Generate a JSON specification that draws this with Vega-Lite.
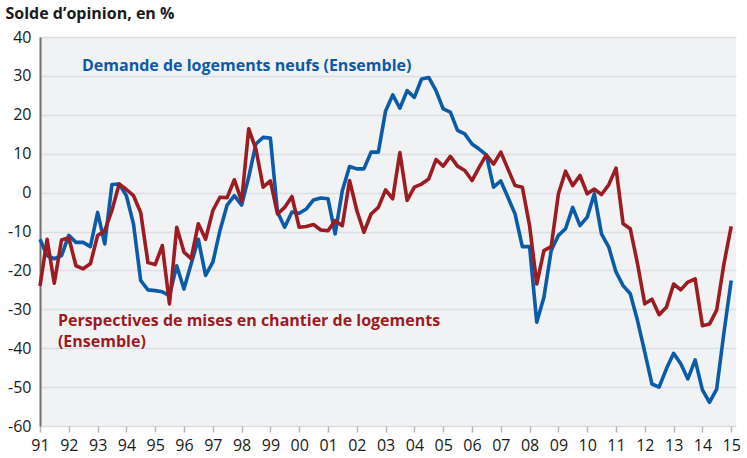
{
  "$schema": "https://vega.github.io/schema/vega-lite/v6.json",
  "width": 696,
  "height": 389,
  "autosize": {"type": "none"},
  "padding": {"left": 40, "top": 37, "right": 11, "bottom": 32},
  "background": "#ffffff",
  "config": {
    "view": {"fill": "#f1f2f4", "stroke": null},
    "font": "Open Sans",
    "axis": {"labelFont": "Open Sans", "titleFont": "Open Sans"}
  },
  "datasets": {
    "series": [
      {"d": "1991-01-01", "demande": -12, "perspectives": -24},
      {"d": "1991-04-01", "demande": -16.2, "perspectives": -12},
      {"d": "1991-07-01", "demande": -17, "perspectives": -23.3},
      {"d": "1991-10-01", "demande": -16.2, "perspectives": -12.2},
      {"d": "1992-01-01", "demande": -11, "perspectives": -11.6},
      {"d": "1992-04-01", "demande": -12.8, "perspectives": -18.8},
      {"d": "1992-07-01", "demande": -12.8, "perspectives": -19.6},
      {"d": "1992-10-01", "demande": -13.9, "perspectives": -18.3},
      {"d": "1993-01-01", "demande": -5.1, "perspectives": -11},
      {"d": "1993-04-01", "demande": -13.2, "perspectives": -9.8},
      {"d": "1993-07-01", "demande": 2.1, "perspectives": -4.6},
      {"d": "1993-10-01", "demande": 2.2, "perspectives": 2.2},
      {"d": "1994-01-01", "demande": -0.8, "perspectives": 0.8},
      {"d": "1994-04-01", "demande": -8.1, "perspectives": -0.8},
      {"d": "1994-07-01", "demande": -22.6, "perspectives": -5.1},
      {"d": "1994-10-01", "demande": -25, "perspectives": -18},
      {"d": "1995-01-01", "demande": -25.2, "perspectives": -18.5},
      {"d": "1995-04-01", "demande": -25.5, "perspectives": -13.6},
      {"d": "1995-07-01", "demande": -26.5, "perspectives": -28.6},
      {"d": "1995-10-01", "demande": -18.8, "perspectives": -8.9},
      {"d": "1996-01-01", "demande": -24.8, "perspectives": -15.3},
      {"d": "1996-04-01", "demande": -18.3, "perspectives": -17},
      {"d": "1996-07-01", "demande": -12, "perspectives": -8},
      {"d": "1996-10-01", "demande": -21.3, "perspectives": -12},
      {"d": "1997-01-01", "demande": -17.9, "perspectives": -4.6},
      {"d": "1997-04-01", "demande": -9.8, "perspectives": -1.2},
      {"d": "1997-07-01", "demande": -3.2, "perspectives": -1.3},
      {"d": "1997-10-01", "demande": -0.8, "perspectives": 3.3},
      {"d": "1998-01-01", "demande": -3.2, "perspectives": -2.2},
      {"d": "1998-04-01", "demande": 4, "perspectives": 16.4},
      {"d": "1998-07-01", "demande": 12.5, "perspectives": 11.2},
      {"d": "1998-10-01", "demande": 14.2, "perspectives": 1.4},
      {"d": "1999-01-01", "demande": 14, "perspectives": 3},
      {"d": "1999-04-01", "demande": -5, "perspectives": -5.5},
      {"d": "1999-07-01", "demande": -8.9, "perspectives": -3.8},
      {"d": "1999-10-01", "demande": -5, "perspectives": -1},
      {"d": "2000-01-01", "demande": -5.3, "perspectives": -8.9},
      {"d": "2000-04-01", "demande": -4.2, "perspectives": -8.7},
      {"d": "2000-07-01", "demande": -1.9, "perspectives": -8.2},
      {"d": "2000-10-01", "demande": -1.4, "perspectives": -9.6},
      {"d": "2001-01-01", "demande": -1.6, "perspectives": -9.8},
      {"d": "2001-04-01", "demande": -10.6, "perspectives": -7.2},
      {"d": "2001-07-01", "demande": 0.5, "perspectives": -8.5},
      {"d": "2001-10-01", "demande": 6.7, "perspectives": 3.1},
      {"d": "2002-01-01", "demande": 6.1, "perspectives": -4.6},
      {"d": "2002-04-01", "demande": 6.1, "perspectives": -10.2},
      {"d": "2002-07-01", "demande": 10.4, "perspectives": -5.5},
      {"d": "2002-10-01", "demande": 10.4, "perspectives": -3.8},
      {"d": "2003-01-01", "demande": 21, "perspectives": 0.7},
      {"d": "2003-04-01", "demande": 25.1, "perspectives": -1.6},
      {"d": "2003-07-01", "demande": 21.7, "perspectives": 10.3},
      {"d": "2003-10-01", "demande": 26.2, "perspectives": -2},
      {"d": "2004-01-01", "demande": 24.5, "perspectives": 1.4},
      {"d": "2004-04-01", "demande": 29.2, "perspectives": 2.2},
      {"d": "2004-07-01", "demande": 29.6, "perspectives": 3.5},
      {"d": "2004-10-01", "demande": 26.2, "perspectives": 8.5},
      {"d": "2005-01-01", "demande": 21.5, "perspectives": 6.8},
      {"d": "2005-04-01", "demande": 20.7, "perspectives": 9.3},
      {"d": "2005-07-01", "demande": 16, "perspectives": 6.8},
      {"d": "2005-10-01", "demande": 15.1, "perspectives": 5.7},
      {"d": "2006-01-01", "demande": 12.5, "perspectives": 3.1},
      {"d": "2006-04-01", "demande": 11.2, "perspectives": 6.5},
      {"d": "2006-07-01", "demande": 9.7, "perspectives": 9.7},
      {"d": "2006-10-01", "demande": 1.4, "perspectives": 7.3},
      {"d": "2007-01-01", "demande": 3, "perspectives": 10.4},
      {"d": "2007-04-01", "demande": -1.2, "perspectives": 6.1},
      {"d": "2007-07-01", "demande": -5.5, "perspectives": 1.8},
      {"d": "2007-10-01", "demande": -13.9, "perspectives": 1.4},
      {"d": "2008-01-01", "demande": -13.9, "perspectives": -8.5},
      {"d": "2008-04-01", "demande": -33.3, "perspectives": -23.5},
      {"d": "2008-07-01", "demande": -26.9, "perspectives": -14.9},
      {"d": "2008-10-01", "demande": -14.9, "perspectives": -13.9},
      {"d": "2009-01-01", "demande": -11, "perspectives": -0.3},
      {"d": "2009-04-01", "demande": -9.3, "perspectives": 5.5},
      {"d": "2009-07-01", "demande": -3.8, "perspectives": 1.8},
      {"d": "2009-10-01", "demande": -8.5, "perspectives": 4.4},
      {"d": "2010-01-01", "demande": -6.3, "perspectives": -0.3},
      {"d": "2010-04-01", "demande": -0.3, "perspectives": 0.9},
      {"d": "2010-07-01", "demande": -10.6, "perspectives": -0.5},
      {"d": "2010-10-01", "demande": -14, "perspectives": 2},
      {"d": "2011-01-01", "demande": -20.4, "perspectives": 6.3},
      {"d": "2011-04-01", "demande": -23.9, "perspectives": -8},
      {"d": "2011-07-01", "demande": -26, "perspectives": -9.3},
      {"d": "2011-10-01", "demande": -32.9, "perspectives": -18.3},
      {"d": "2012-01-01", "demande": -41, "perspectives": -28.6},
      {"d": "2012-04-01", "demande": -49.2, "perspectives": -27.4},
      {"d": "2012-07-01", "demande": -50, "perspectives": -31.4},
      {"d": "2012-10-01", "demande": -45.3, "perspectives": -29.5},
      {"d": "2013-01-01", "demande": -41.3, "perspectives": -23.5},
      {"d": "2013-04-01", "demande": -44, "perspectives": -25},
      {"d": "2013-07-01", "demande": -47.9, "perspectives": -23},
      {"d": "2013-10-01", "demande": -43, "perspectives": -22.2},
      {"d": "2014-01-01", "demande": -50.7, "perspectives": -34.2},
      {"d": "2014-04-01", "demande": -53.9, "perspectives": -33.8},
      {"d": "2014-07-01", "demande": -50.5, "perspectives": -30.2},
      {"d": "2014-10-01", "demande": -36, "perspectives": -18.3},
      {"d": "2015-01-01", "demande": -22.6, "perspectives": -8.7}
    ],
    "labels_blue": [
      {"d": "1992-06-17", "v": 32.6, "t": "Demande de logements neufs (Ensemble)"}
    ],
    "labels_red": [
      {"d": "1991-08-16", "v": -32.9, "t": "Perspectives de mises en chantier de logements"},
      {"d": "1991-08-16", "v": -38.3, "t": "(Ensemble)"}
    ]
  },
  "encoding": {
    "x": {
      "field": "d",
      "type": "temporal",
      "scale": {
        "type": "utc",
        "domain": [
          {"year": 1991, "month": 1, "date": 1, "utc": true},
          {"year": 2015, "month": 3, "date": 3, "utc": true}
        ]
      },
      "axis": {
        "title": null,
        "labelExpr": "utcFormat(datum.value, '%y')",
        "tickCount": {"interval": "year", "step": 1},
        "grid": false,
        "domain": false,
        "ticks": true,
        "tickColor": "#b4b6ba",
        "tickSize": 6,
        "tickWidth": 1.5,
        "labelFontSize": 16,
        "labelColor": "#1a1a1a",
        "labelPadding": 5,
        "labelDx": 3,
        "labelFlush": false,
        "labelOverlap": false
      }
    },
    "y": {
      "type": "quantitative",
      "scale": {"domain": [-60, 40], "nice": false, "zero": false},
      "axis": {
        "title": "Solde d’opinion, en %",
        "titleAngle": 0,
        "titleAlign": "left",
        "titleBaseline": "alphabetic",
        "titleX": -35,
        "titleY": -19,
        "titleFontSize": 16,
        "titleFontWeight": "bold",
        "titleColor": "#1a1a1a",
        "values": [-60, -50, -40, -30, -20, -10, 0, 10, 20, 30, 40],
        "labelExpr": "'' + datum.value",
        "labelFontSize": 16,
        "labelColor": "#1a1a1a",
        "labelPadding": 9,
        "ticks": false,
        "domain": true,
        "domainColor": "#6e6f72",
        "domainWidth": 2,
        "grid": true,
        "gridColor": "#dcdee2",
        "gridWidth": 1.5
      }
    }
  },
  "layer": [
    {
      "mark": {"type": "rule", "color": "#5a5b5e", "strokeWidth": 1.8},
      "encoding": {"y": {"datum": 0}, "x": null}
    },
    {
      "data": {"name": "series"},
      "mark": {"type": "line", "color": "#0b5ba8", "strokeWidth": 3.6, "strokeJoin": "round"},
      "encoding": {"y": {"field": "demande", "type": "quantitative"}}
    },
    {
      "data": {"name": "series"},
      "mark": {"type": "line", "color": "#9b1c23", "strokeWidth": 3.6, "strokeJoin": "round"},
      "encoding": {"y": {"field": "perspectives", "type": "quantitative"}}
    },
    {
      "data": {"name": "labels_blue"},
      "mark": {"type": "text", "color": "#0b5ba8", "align": "left", "baseline": "middle", "fontSize": 16, "fontWeight": "bold"},
      "encoding": {"y": {"field": "v", "type": "quantitative"}, "text": {"field": "t"}}
    },
    {
      "data": {"name": "labels_red"},
      "mark": {"type": "text", "color": "#9b1c23", "align": "left", "baseline": "middle", "fontSize": 16, "fontWeight": "bold"},
      "encoding": {"y": {"field": "v", "type": "quantitative"}, "text": {"field": "t"}}
    }
  ]
}
